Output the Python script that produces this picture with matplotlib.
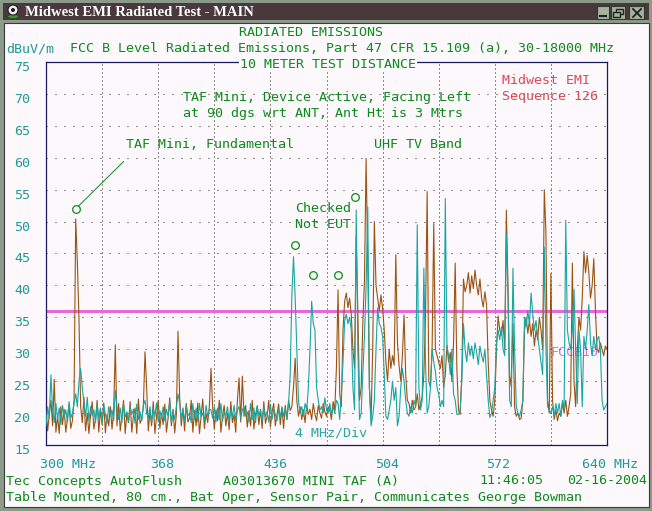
import numpy as np
import matplotlib
matplotlib.use("Agg")
import matplotlib.pyplot as plt
from matplotlib.patches import Rectangle, Circle, Ellipse
from matplotlib.transforms import ScaledTranslation

# sweep 300-640 MHz, 1 MHz steps, one row = 10 MHz
brown = [
    20.5, 17.2, 19.8, 22.0, 18.0, 25.3, 17.0, 19.5, 16.8, 21.0,  # 300
    18.2, 20.6, 17.0, 19.2, 21.4, 17.6, 18.8, 22.0, 50.4, 43.7,  # 310
    34.6, 21.0, 18.5, 22.5, 17.2, 20.0, 16.8, 19.6, 21.8, 17.5,  # 320
    19.0, 22.0, 17.0, 20.5, 18.2, 21.6, 16.9, 19.8, 18.0, 21.0,  # 330
    17.5, 20.2, 30.7, 18.0, 21.5, 17.2, 19.5, 22.0, 16.8, 20.0,  # 340
    18.5, 21.8, 17.0, 19.6, 20.8, 16.8, 22.2, 18.4, 19.0, 21.0,  # 350
    29.6, 24.0, 17.2, 20.4, 18.0, 21.8, 16.8, 19.5, 22.0, 17.6,  # 360
    20.0, 18.2, 21.4, 17.0, 19.2, 22.4, 18.0, 20.6, 16.9, 19.8,  # 370
    32.8, 22.5, 18.0, 20.8, 17.2, 21.5, 18.6, 19.2, 22.0, 17.0,  # 380
    20.4, 18.0, 21.6, 16.8, 19.5, 22.2, 17.6, 20.0, 18.5, 21.0,  # 390
    27.0, 21.0, 17.5, 20.5, 18.8, 22.0, 17.0, 19.6, 21.2, 18.0,  # 400
    20.0, 17.4, 21.8, 18.5, 19.8, 17.0, 22.0, 25.5, 18.6, 25.8,  # 410
    19.5, 21.2, 17.8, 20.4, 18.0, 22.0, 17.5, 19.8, 21.0, 18.2,  # 420
    20.6, 17.6, 21.8, 18.4, 19.5, 22.0, 17.8, 20.2, 21.5, 18.0,  # 430
    19.8, 21.4, 18.2, 20.8, 17.6, 21.2, 19.0, 22.0, 20.4, 21.0,  # 440
    24.0, 28.6, 22.0, 19.5, 21.0, 19.0, 20.5, 18.5, 21.2, 19.8,  # 450
    20.6, 19.0, 21.5, 19.8, 18.8, 21.2, 20.0, 19.2, 21.5, 20.2,  # 460
    19.5, 21.0, 20.4, 19.0, 21.8, 20.5, 27.0, 39.3, 23.0, 21.0,  # 470
    33.0, 37.5, 38.8, 36.5, 38.0, 35.5, 30.0, 27.0, 47.6, 36.0,  # 480
    22.0, 24.0, 34.0, 40.7, 59.9, 44.0, 24.0, 19.0, 30.0, 50.0,  # 490
    40.0, 38.0, 36.0, 38.5, 36.4, 33.0, 28.0, 25.0, 30.0, 27.0,  # 500
    29.0, 27.5, 44.8, 31.0, 27.4, 25.0, 29.0, 35.4, 26.0, 22.0,  # 510
    21.5, 20.0, 22.0, 20.5, 21.0, 23.0, 20.5, 21.5, 22.5, 26.0,  # 520
    35.0, 54.7, 25.0, 24.0, 30.0, 49.7, 30.0, 29.0, 28.0, 27.0,  # 530
    29.0, 24.0, 26.0, 30.6, 28.0, 29.5, 25.0, 31.0, 43.5, 27.0,  # 540
    20.5, 19.8, 26.0, 41.0, 39.0, 40.0, 42.0, 38.8, 41.5, 39.5,  # 550
    42.4, 40.0, 38.5, 41.0, 38.0, 36.6, 39.0, 37.0, 28.0, 22.0,  # 560
    20.5, 19.5, 22.0, 30.0, 35.2, 33.0, 32.2, 34.5, 30.0, 51.8,  # 570
    40.0, 24.0, 26.0, 34.0, 21.0, 19.5, 20.0, 19.0, 19.2, 22.0,  # 580
    33.0, 35.0, 32.5, 34.5, 32.0, 34.0, 30.5, 33.0, 31.5, 35.0,  # 590
    33.0, 30.0, 55.0, 48.2, 22.0, 20.0, 41.9, 22.0, 19.0, 20.5,  # 600
    18.8, 20.0, 19.5, 21.5, 20.0, 22.0, 19.5, 21.0, 23.0, 43.5,  # 610
    25.0, 21.0, 30.0, 35.0, 33.0, 38.0, 45.3, 42.0, 44.7, 42.0,  # 620
    38.0, 40.0, 44.2, 36.0, 30.0, 29.5, 31.0, 30.0, 29.0, 30.5,  # 630
    30.0,                                                        # 640
]

teal = [
    18.0, 21.0, 19.2, 26.0, 20.5, 18.5, 21.5, 19.0, 20.8, 18.2,  # 300
    21.2, 19.5, 20.5, 18.6, 21.8, 19.2, 20.0, 21.5, 23.0, 21.0,  # 310
    25.0, 27.0, 24.0, 21.5, 19.5, 22.5, 18.8, 21.0, 19.6, 20.5,  # 320
    18.5, 21.5, 19.2, 20.8, 18.6, 21.2, 19.8, 18.4, 21.0, 19.5,  # 330
    20.5, 18.8, 23.5, 21.0, 19.0, 20.8, 18.5, 21.5, 19.4, 20.2,  # 340
    18.6, 21.0, 19.8, 20.6, 18.4, 21.4, 19.0, 20.2, 18.8, 21.2,  # 350
    22.0, 20.0, 19.2, 21.0, 18.5, 20.8, 19.5, 21.6, 18.6, 20.4,  # 360
    19.2, 21.0, 18.8, 20.6, 19.5, 21.8, 18.5, 20.2, 19.0, 21.0,  # 370
    23.0, 21.5, 19.0, 20.5, 18.8, 21.2, 19.6, 20.0, 18.5, 21.5,  # 380
    19.0, 20.8, 18.6, 21.5, 19.4, 20.0, 18.8, 21.2, 19.5, 20.6,  # 390
    20.5, 19.2, 21.0, 18.6, 20.8, 19.0, 21.5, 18.8, 20.2, 19.6,  # 400
    21.0, 18.5, 20.6, 19.4, 21.2, 18.8, 20.5, 21.0, 19.2, 20.5,  # 410
    21.0, 19.5, 20.2, 18.6, 21.5, 19.0, 20.8, 18.5, 21.2, 19.6,  # 420
    20.4, 18.8, 21.0, 19.5, 20.2, 18.6, 21.4, 19.0, 20.6, 19.8,  # 430
    18.8, 20.5, 19.2, 21.0, 19.5, 20.8, 19.0, 21.5, 26.0, 38.5,  # 440
    44.5, 38.2, 30.0, 22.0, 20.0, 21.0, 19.5, 21.5, 20.5, 24.0,  # 450
    30.0, 37.5, 34.0, 33.0, 24.0, 22.0, 20.5, 21.0, 20.0, 22.4,  # 460
    20.5, 20.0, 21.5, 19.8, 21.0, 20.0, 22.0, 21.5, 19.0, 23.0,  # 470
    28.0, 34.5, 35.5, 34.0, 35.0, 33.0, 24.0, 20.5, 51.8, 30.0,  # 480
    19.0, 20.0, 26.0, 32.0, 40.0, 52.3, 24.0, 18.0, 19.5, 22.0,  # 490
    30.0, 36.5, 34.0, 33.5, 32.0, 26.0, 19.5, 19.0, 20.5, 22.0,  # 500
    25.0, 22.0, 24.0, 18.0, 19.5, 24.0, 27.0, 25.0, 22.0, 20.0,  # 510
    19.5, 21.0, 20.0, 22.0, 21.0, 49.5, 24.0, 20.5, 22.0, 42.7,  # 520
    28.0, 20.0, 21.0, 24.0, 30.0, 28.0, 26.5, 24.0, 23.0, 21.0,  # 530
    22.0, 21.0, 53.6, 30.5, 29.0, 26.0, 30.0, 23.0, 22.0, 19.8,  # 540
    19.8, 20.5, 25.0, 34.0, 30.0, 28.0, 31.0, 29.0, 30.5, 28.5,  # 550
    31.0, 29.5, 27.6, 30.5, 29.0, 28.0, 30.0, 26.0, 22.0, 19.3,  # 560
    20.0, 22.0, 24.0, 31.0, 33.0, 31.5, 33.5, 30.0, 29.0, 48.0,  # 570
    38.0, 22.0, 21.0, 42.7, 30.0, 21.0, 20.0, 19.5, 20.5, 22.0,  # 580
    35.0, 33.5, 36.0, 34.0, 38.8, 35.5, 33.0, 34.5, 32.0, 30.0,  # 590
    28.0, 26.0, 46.0, 30.0, 21.0, 20.5, 20.0, 21.0, 19.5, 21.5,  # 600
    20.0, 21.5, 19.5, 22.0, 20.5, 50.2, 33.0, 31.0, 30.0, 33.0,  # 610
    39.4, 30.0, 21.5, 33.0, 30.0, 21.0, 32.0, 30.0, 33.0, 37.0,  # 620
    31.0, 29.0, 32.0, 30.0, 31.5, 32.0, 30.0, 22.0, 20.5, 21.0,  # 630
    21.5,                                                        # 640
]

freq = np.arange(300, 300 + len(brown))

limit = 36.0
xticks = [300, 368, 436, 504, 572, 640]
xlabels = ["300 MHz", "368", "436", "504", "572", "640 MHz"]
yticks = list(range(15, 80, 5))

# marked peaks (circles)
fund_f, fund_v = 318, 52.0
fund_lead = (347, 59.4)
chk_f = [451, 462, 477, 487.5]
chk_v = [46.4, 41.7, 41.7, 53.9]

W, H = 652, 511
BG = "#fcf8fc"
FRAME = "#8c9a89"
GREEN = "#0c8a1c"
TEALTXT = "#1f9a9a"
BROWN = "#9a5412"
TEAL = "#19a6a2"
MONO = "DejaVu Sans Mono"
FS = 9.6

fig = plt.figure(figsize=(W / 100, H / 100), dpi=100)
fig.patch.set_facecolor(FRAME)

# window chrome, pixel coordinates
bg = fig.add_axes([0, 0, 1, 1], zorder=0)
bg.set_xlim(0, W)
bg.set_ylim(H, 0)
bg.axis("off")
bg.add_patch(Rectangle((0, 0), W, H, fc=FRAME, ec="none"))
bg.add_patch(Rectangle((3, 3), 646, 17, fc="#4a393c", ec="none"))
bg.add_patch(Rectangle((4, 23), 645, 484, fc=BG, ec="#3a3a3a", lw=0.8))
# icon
bg.add_patch(Ellipse((13, 16.5), 10, 3, fc="#2aa02a", ec="none"))
bg.add_patch(Circle((13, 10), 5, fc="#f0f0f0", ec="#202020", lw=0.8))
bg.add_patch(Circle((13, 10), 2, fc="#202020", ec="none"))
bg.text(25, 12, "Midwest EMI Radiated Test - MAIN", color="white",
        family="Liberation Serif", weight="bold", fontsize=10.5, va="center")
# title bar buttons
for bx, bw in [(597, 12), (611, 14), (629, 15)]:
    bg.add_patch(Rectangle((bx, 6), bw, 13, fc="#a3b1a0", ec="#2e3a2e", lw=0.8))
bg.plot([600, 606], [16, 16], color="#202020", lw=1.5)
bg.add_patch(Rectangle((616, 9), 7, 5, fc="none", ec="#202020", lw=1))
bg.add_patch(Rectangle((613, 12), 7, 5, fc="#a3b1a0", ec="#202020", lw=1))
bg.plot([633, 641], [9, 17], color="#202020", lw=1.3)
bg.plot([633, 641], [17, 9], color="#202020", lw=1.3)

# labels that sit under the traces
bg.text(550, 353, "FCCB10", color="#c47ade", family=MONO, fontsize=FS, va="center")
bg.text(295, 433, "4 MHz/Div", color="#2aa6a6", family=MONO, fontsize=FS, va="center")

# plot area
x0, x1, y0, y1 = 46, 607, 62, 445
ax = fig.add_axes([x0 / W, (H - y1) / H, (x1 - x0) / W, (y1 - y0) / H], zorder=1)
ax.set_facecolor("none")
ax.set_xlim(300, 640)
ax.set_ylim(15, 75)

for y in range(20, 75, 5):
    ax.axhline(y, color="#222222", lw=0.72, ls=(0, (1, 8)), zorder=0.5)
for f in range(334, 640, 34):
    ax.axvline(f, color="#222222", lw=0.72, ls=(0, (1, 3)), zorder=0.5)

ax.axhline(limit, color="#e868d8", lw=0.8, zorder=1, antialiased=False)
ax.plot(freq, brown, color=BROWN, lw=0.8, zorder=2)
ax.plot(freq, teal, color=TEAL, lw=0.8, zorder=3)

# annotation markers
ax.plot([fund_f, fund_lead[0]], [fund_v, fund_lead[1]], color=GREEN, lw=0.7, zorder=4)
ax.plot([fund_f] + chk_f, [fund_v] + chk_v, "o", ms=5.5, mfc=BG, mec=GREEN,
        mew=0.9, zorder=5, clip_on=False)

for s in ax.spines.values():
    s.set_color("#1a1a5e")
    s.set_linewidth(0.9)

ax.set_yticks(yticks)
ax.set_yticklabels([str(v) for v in yticks])
ax.set_xticks(xticks)
ax.set_xticklabels(xlabels)
ax.tick_params(length=0, labelcolor=TEALTXT, labelsize=FS)
ax.tick_params(axis="y", pad=11.5)
ax.tick_params(axis="x", pad=14)
for lab in ax.get_yticklabels() + ax.get_xticklabels():
    lab.set_family(MONO)
for lab in ax.get_yticklabels():
    lab.set_transform(lab.get_transform() + ScaledTranslation(0, -0.04, fig.dpi_scale_trans))
xshift = [-0.064, 0.04, 0.045, 0.04, 0.03, 0.31]
for lab, dx in zip(ax.get_xticklabels(), xshift):
    lab.set_va("center")
    lab.set_transform(lab.get_transform() + ScaledTranslation(dx, 0, fig.dpi_scale_trans))
ax.get_xticklabels()[0].set_ha("left")
ax.get_xticklabels()[-1].set_ha("right")

# overlay texts, pixel coordinates
top = fig.add_axes([0, 0, 1, 1], zorder=2)
top.set_xlim(0, W)
top.set_ylim(H, 0)
top.axis("off")

def t(x, y, s, c=GREEN, **kw):
    top.text(x, y, s, color=c, family=MONO, fontsize=FS, va="center", **kw)

t(239, 33, "RADIATED EMISSIONS")
t(6, 49, "dBuV/m", TEALTXT)
t(70, 49, "FCC B Level Radiated Emissions, Part 47 CFR 15.109 (a), 30-18000 MHz")
top.text(240, 64, "10 METER TEST DISTANCE", color=GREEN, family=MONO, fontsize=FS,
         va="center", bbox=dict(fc=BG, ec="none", pad=1))
t(183, 97.5, "TAF Mini, Device Active, Facing Left")
t(183, 113.5, "at 90 dgs wrt ANT, Ant Ht is 3 Mtrs")
t(502, 81, "Midwest EMI", "#dc4a52")
t(502, 96.5, "Sequence 126", "#dc4a52")
t(126, 145, "TAF Mini, Fundamental")
t(374, 145, "UHF TV Band")
t(295, 209, "Checked")
t(295, 225, "Not EUT")
t(6, 481, "Tec Concepts AutoFlush")
t(223, 481, "A03013670 MINI TAF (A)")
t(479, 481, "11:46:05")
t(567, 481, "02-16-2004")
t(6, 497, "Table Mounted, 80 cm., Bat Oper, Sensor Pair, Communicates George Bowman")

fig.savefig("out.png", dpi=100, facecolor=FRAME)
